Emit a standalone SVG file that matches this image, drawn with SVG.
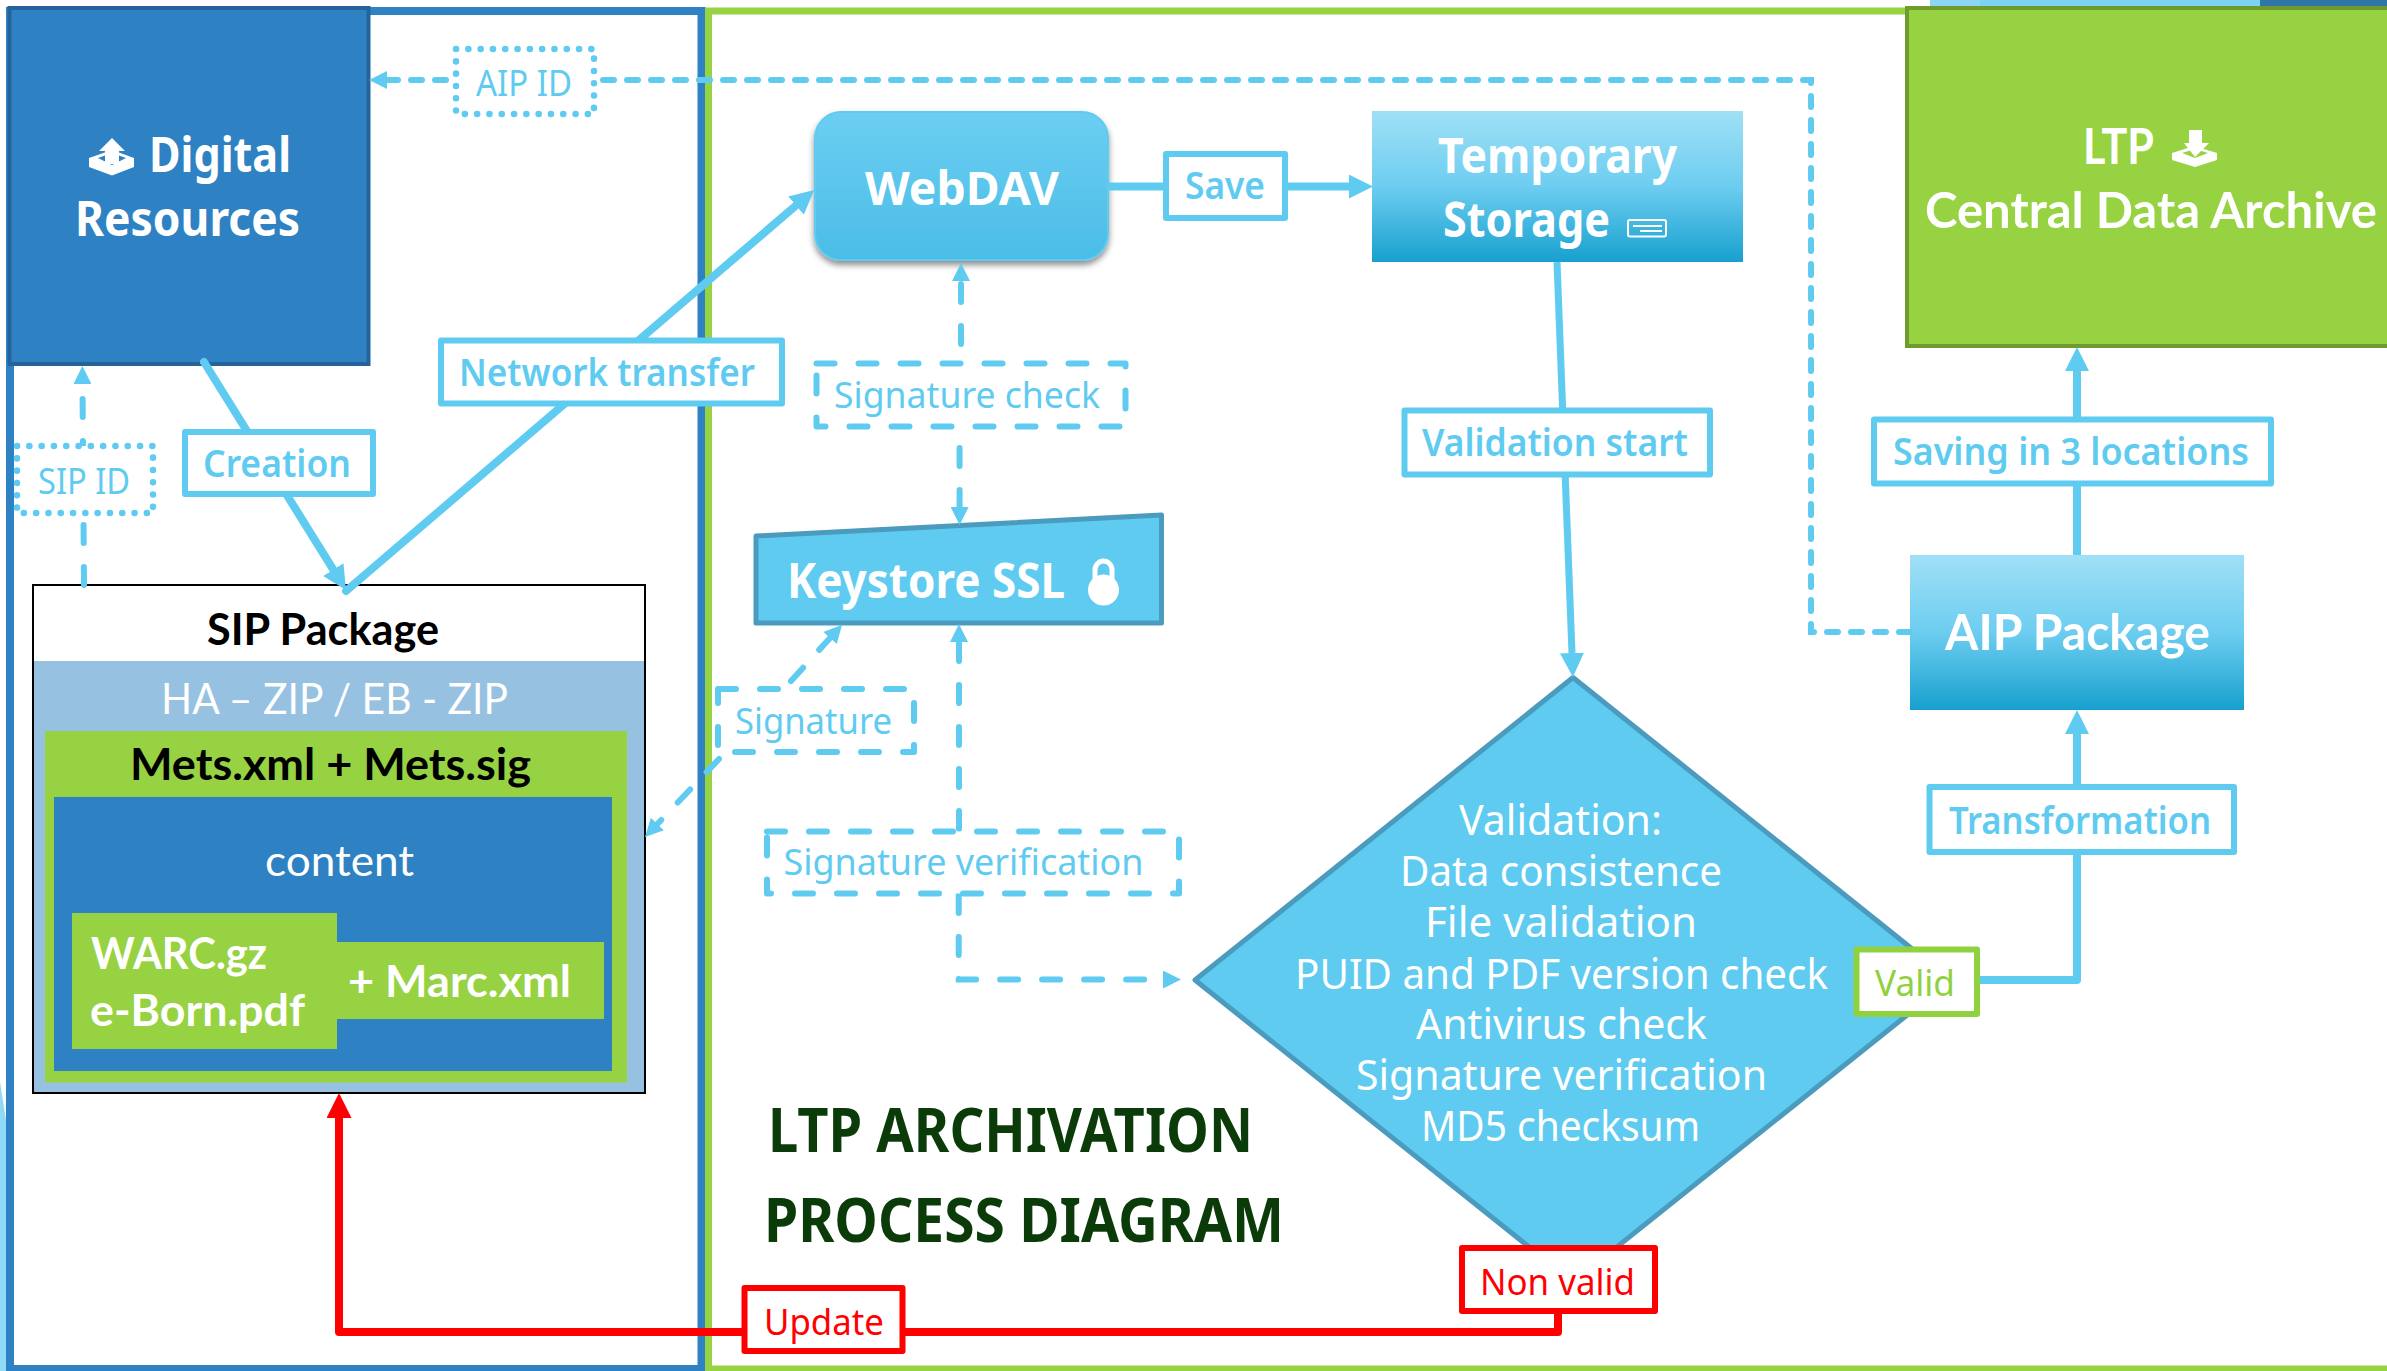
<svg xmlns="http://www.w3.org/2000/svg" width="2387" height="1371" viewBox="0 0 2387 1371">
<style>
text{font-family:"Noto Sans","DejaVu Sans",sans-serif;}
.cal{font-family:Lato,"Noto Sans",sans-serif;}
.w{fill:#fff}.k{fill:#000}.c{fill:#5fcbf0}.r{fill:#f00}.g{fill:#8fd13f}.t{fill:#0c3b0a}
.b{font-weight:700}.sb{font-weight:600}
.box{fill:#fff;stroke:#5fcbf0;stroke-width:6;stroke-linejoin:round}
.dash{stroke-dasharray:18 24;stroke-linecap:round;stroke-width:6}
.dot{stroke-dasharray:0.1 12.2;stroke-linecap:round;stroke-width:6.500}
.red{fill:#fff;stroke:#f00;stroke-width:6;stroke-linejoin:round}
.grn{fill:#fff;stroke:#8fd13f;stroke-width:6;stroke-linejoin:round}
.solid{fill:none;stroke:#5fcbf0;stroke-width:8;stroke-linejoin:round;stroke-linecap:round}
.ld{fill:none;stroke:#5fcbf0;stroke-width:6;stroke-dasharray:18 24;stroke-linecap:round}
.ls{fill:none;stroke:#5fcbf0;stroke-width:6;stroke-dasharray:11 13;stroke-linecap:round}
.shp{fill:#5fcbf0;stroke:#4a9bbd;stroke-width:5;stroke-linejoin:round}
</style>
<defs>
<linearGradient id="grad" x1="0" y1="0" x2="0" y2="1"><stop offset="0" stop-color="#a0e0f6"/><stop offset="0.5" stop-color="#6dcdf0"/><stop offset="1" stop-color="#17a0cf"/></linearGradient>
<linearGradient id="gradW" x1="0" y1="0" x2="0" y2="1"><stop offset="0" stop-color="#6cceF1"/><stop offset="1" stop-color="#4abde8"/></linearGradient>
<filter id="sh" x="-10%" y="-10%" width="120%" height="125%"><feDropShadow dx="0" dy="4" stdDeviation="3" flood-color="#000" flood-opacity="0.45"/></filter>
<marker id="aS" viewBox="0 0 10 10" refX="0" refY="5" markerUnits="userSpaceOnUse" markerWidth="24" markerHeight="24" orient="auto"><path d="M0 0L10 5L0 10Z" fill="#5fcbf0"/></marker>
<marker id="aD" viewBox="0 0 10 10" refX="0" refY="5" markerUnits="userSpaceOnUse" markerWidth="18" markerHeight="18" orient="auto"><path d="M0 0L10 5L0 10Z" fill="#5fcbf0"/></marker>
<marker id="aR" viewBox="0 0 10 10" refX="0" refY="5" markerUnits="userSpaceOnUse" markerWidth="25" markerHeight="25" orient="auto"><path d="M0 0L10 5L0 10Z" fill="#f00"/></marker>
</defs>
<rect width="2387" height="1371" fill="#fff"/>
<g id="background-strips">
<rect x="1930" y="0" width="50" height="8" fill="#8cd6f3"/>
<rect x="1980" y="0" width="280" height="8" fill="#7dd2f0"/>
<rect x="2260" y="0" width="127" height="8" fill="#2f75a8"/>
<path d="M0 1082L6 1120V1371H0Z" fill="#8fdaf6"/>
</g>
<g id="frames">
<rect id="frame-blue" x="10" y="11" width="691.500" height="1358" fill="none" stroke="#2e82c3" stroke-width="8"/>
<rect id="frame-green" x="708.500" y="11" width="1800" height="1358" fill="none" stroke="#97d242" stroke-width="7"/>
</g>
<g id="node-digital-resources">
<rect x="9.500" y="8" width="359" height="356" fill="#2e82c3" stroke="#25649a" stroke-width="4"/>
<path d="M89 158L112 150L134 158V167L112 175.500L89 167Z" fill="#fff"/>
<path d="M98 158L112 153L126 158L112 165Z" fill="#2e82c3"/>
<path d="M112 138L125 151H119V164H105V151H99Z" fill="#fff"/>
<text class="w b" x="149" y="172" font-size="49" textLength="142" lengthAdjust="spacingAndGlyphs">Digital</text>
<text class="w b" x="75" y="236" font-size="49" textLength="225" lengthAdjust="spacingAndGlyphs">Resources</text>
</g>
<g id="node-sip-package">
<rect x="33" y="585" width="612" height="508" fill="#fff" stroke="#000" stroke-width="2"/>
<rect x="34" y="661" width="610" height="431" fill="#97c1e1"/>
<rect x="45" y="731" width="582" height="351.500" fill="#97d242"/>
<rect x="54" y="797" width="558" height="274" fill="#2e82c3"/>
<rect x="72" y="913" width="265" height="136" fill="#97d242"/>
<rect x="337" y="942" width="267" height="77" fill="#97d242"/>
<text class="cal k b" x="207" y="645" font-size="43" textLength="232" lengthAdjust="spacingAndGlyphs">SIP Package</text>
<text class="cal w" x="161" y="714" font-size="43" textLength="347" lengthAdjust="spacingAndGlyphs">HA – ZIP / EB - ZIP</text>
<text class="cal k b" x="130" y="780" font-size="43" textLength="401" lengthAdjust="spacingAndGlyphs">Mets.xml + Mets.sig</text>
<text class="cal w" x="265" y="876" font-size="43" textLength="149" lengthAdjust="spacingAndGlyphs">content</text>
<text class="cal w b" x="91" y="969" font-size="43" textLength="176" lengthAdjust="spacingAndGlyphs">WARC.gz</text>
<text class="cal w b" x="90" y="1026" font-size="43" textLength="215" lengthAdjust="spacingAndGlyphs">e-Born.pdf</text>
<text class="cal w b" x="348" y="997" font-size="43" textLength="223" lengthAdjust="spacingAndGlyphs">+ Marc.xml</text>
</g>
<g id="node-webdav">
<rect x="815" y="112" width="293" height="148" rx="26" fill="url(#gradW)" stroke="#5fcbf0" stroke-width="2" filter="url(#sh)"/>
<text class="w b" x="865" y="205" font-size="47" textLength="194" lengthAdjust="spacingAndGlyphs">WebDAV</text>
</g>
<g id="node-temporary-storage">
<rect x="1372" y="111" width="371" height="151" fill="url(#grad)"/>
<text class="w b" x="1438" y="173" font-size="48" textLength="239" lengthAdjust="spacingAndGlyphs">Temporary</text>
<text class="w b" x="1443" y="237" font-size="48" textLength="167" lengthAdjust="spacingAndGlyphs">Storage</text>
<rect x="1628" y="220" width="38" height="16.500" rx="2" fill="none" stroke="#fff" stroke-width="2"/>
<path d="M1633 226H1662M1640 231H1662" stroke="#fff" stroke-width="2" fill="none"/>
</g>
<g id="node-keystore">
<path class="shp" d="M756 536L1161.500 515V623H756Z"/>
<text class="w b" x="787" y="598" font-size="48" textLength="278" lengthAdjust="spacingAndGlyphs">Keystore SSL</text>
<ellipse cx="1103.500" cy="590" rx="15.500" ry="15.500" fill="#fff"/>
<path d="M1095 584V570a8.500 9 0 0 1 17 0V584" fill="none" stroke="#fff" stroke-width="5"/>
</g>
<g id="node-validation">
<path class="shp" d="M1573 677.500L1951 980L1573 1282L1195 980Z"/>
<g font-size="41" class="w">
<text class="w" x="1459" y="835" textLength="203" lengthAdjust="spacingAndGlyphs">Validation:</text>
<text class="w" x="1400" y="886" textLength="322" lengthAdjust="spacingAndGlyphs">Data consistence</text>
<text class="w" x="1425" y="937" textLength="272" lengthAdjust="spacingAndGlyphs">File validation</text>
<text class="w" x="1295" y="989" textLength="533" lengthAdjust="spacingAndGlyphs">PUID and PDF version check</text>
<text class="w" x="1416" y="1039" textLength="291" lengthAdjust="spacingAndGlyphs">Antivirus check</text>
<text class="w" x="1356" y="1090" textLength="411" lengthAdjust="spacingAndGlyphs">Signature verification</text>
<text class="w" x="1421" y="1141" textLength="279" lengthAdjust="spacingAndGlyphs">MD5 checksum</text>
</g>
</g>
<g id="node-aip-package">
<rect x="1910" y="555" width="334" height="155" fill="url(#grad)"/>
<text class="cal w b" x="1945" y="650" font-size="49" textLength="265" lengthAdjust="spacingAndGlyphs">AIP Package</text>
</g>
<g id="node-central-data-archive">
<rect x="1907" y="8" width="500" height="338" fill="#97d242" stroke="#6f9a2e" stroke-width="4"/>
<text class="cal w b" x="2083" y="164" font-size="50" textLength="71" lengthAdjust="spacingAndGlyphs">LTP</text>
<path d="M2172 153L2194 146L2217 153V160L2195 167L2172 160Z" fill="#fff"/>
<path d="M2182 153L2195 149L2208 153L2195 158Z" fill="#97d242"/>
<path d="M2189 130H2202V143H2209L2195 157L2184 143H2189Z" fill="#fff"/>
<text class="cal w b" x="1925" y="228" font-size="50" textLength="452" lengthAdjust="spacingAndGlyphs">Central Data Archive</text>
</g>
<g id="title">
<text class="t b" x="768" y="1152" font-size="61" textLength="485" lengthAdjust="spacingAndGlyphs">LTP ARCHIVATION</text>
<text class="t b" x="764" y="1242" font-size="61" textLength="520" lengthAdjust="spacingAndGlyphs">PROCESS DIAGRAM</text>
</g>
<g id="connectors">
<path class="solid" d="M204 362L333.300 569.600" marker-end="url(#aS)"/>
<path class="solid" d="M346 591L796 205.500" marker-end="url(#aS)"/>
<path class="solid" style="stroke-linecap:butt" d="M1109 186.600H1349" marker-end="url(#aS)"/>
<path class="solid" style="stroke-width:7;stroke-linecap:butt" d="M1557 262L1572 653" marker-end="url(#aS)"/>
<path class="solid" style="stroke-linecap:butt" d="M2077 555V371" marker-end="url(#aS)"/>
<path class="solid" style="stroke-linecap:butt" d="M1980 980H2077V734" marker-end="url(#aS)"/>
<path fill="none" stroke="#f00" stroke-width="8" stroke-linejoin="round" d="M1558 1314V1332H339V1118" marker-end="url(#aR)"/>
<path class="ls" d="M1910 632H1811V80H387" marker-end="url(#aD)"/>
<path class="ld" d="M84 585L82.500 384" marker-end="url(#aD)"/>
<path class="ld" d="M961 344V281" marker-end="url(#aD)"/>
<path class="ld" d="M959.600 448V507" marker-end="url(#aD)"/>
<path class="ld" d="M959 829V642" marker-end="url(#aD)"/>
<path class="ld" d="M958.700 895V979.600H1163" marker-end="url(#aD)"/>
<path class="ld" d="M791 681L830 638" marker-end="url(#aD)"/>
<path class="ld" d="M719 759L657.400 824" marker-end="url(#aD)"/>
</g>
<g id="label-aip-id"><rect class="box dot" x="456" y="49" width="138" height="65"/><text class="c" x="476" y="96" font-size="37" textLength="96" lengthAdjust="spacingAndGlyphs">AIP ID</text></g>
<g id="label-sip-id"><rect class="box dot" x="17" y="446" width="136" height="67"/><text class="c" x="38" y="494" font-size="37" textLength="92" lengthAdjust="spacingAndGlyphs">SIP ID</text></g>
<g id="label-creation"><rect class="box" x="185" y="432" width="188" height="62"/><text class="c sb" x="203" y="477" font-size="38" textLength="148" lengthAdjust="spacingAndGlyphs">Creation</text></g>
<g id="label-network-transfer"><rect class="box" x="441" y="340.500" width="341" height="63"/><text class="c sb" x="459" y="386" font-size="38" textLength="296" lengthAdjust="spacingAndGlyphs">Network transfer</text></g>
<g id="label-save"><rect class="box" x="1166" y="154" width="119" height="64"/><text class="c sb" x="1185" y="199" font-size="38" textLength="80" lengthAdjust="spacingAndGlyphs">Save</text></g>
<g id="label-signature-check"><rect class="box dash" x="816.500" y="363.500" width="309" height="63"/><text class="c" x="834" y="408" font-size="37" textLength="266" lengthAdjust="spacingAndGlyphs">Signature check</text></g>
<g id="label-validation-start"><rect class="box" x="1404.500" y="410.500" width="305.500" height="64"/><text class="c sb" x="1422" y="456" font-size="38" textLength="266" lengthAdjust="spacingAndGlyphs">Validation start</text></g>
<g id="label-signature"><rect class="box dash" x="718" y="689" width="196" height="63"/><text class="c" x="735" y="734" font-size="37" textLength="157" lengthAdjust="spacingAndGlyphs">Signature</text></g>
<g id="label-signature-verification"><rect class="box dash" x="767" y="831.500" width="412" height="62"/><text class="c" x="783.500" y="875" font-size="37" textLength="360" lengthAdjust="spacingAndGlyphs">Signature verification</text></g>
<g id="label-saving"><rect class="box" x="1874" y="419.500" width="397" height="64"/><text class="c sb" x="1893" y="465" font-size="38" textLength="356" lengthAdjust="spacingAndGlyphs">Saving in 3 locations</text></g>
<g id="label-transformation"><rect class="box" x="1929.500" y="787" width="304.500" height="65"/><text class="c sb" x="1949" y="834" font-size="38" textLength="262" lengthAdjust="spacingAndGlyphs">Transformation</text></g>
<g id="label-valid"><rect class="grn" x="1856.500" y="949.500" width="120.500" height="64.500"/><text class="g" x="1875" y="996" font-size="37" textLength="80" lengthAdjust="spacingAndGlyphs">Valid</text></g>
<g id="label-non-valid"><rect class="red" x="1462" y="1248" width="193" height="63"/><text class="r" x="1480" y="1295" font-size="37" textLength="155" lengthAdjust="spacingAndGlyphs">Non valid</text></g>
<g id="label-update"><rect class="red" x="744.500" y="1288" width="158" height="63"/><text class="r" x="764" y="1335" font-size="37" textLength="120" lengthAdjust="spacingAndGlyphs">Update</text></g>
</svg>
